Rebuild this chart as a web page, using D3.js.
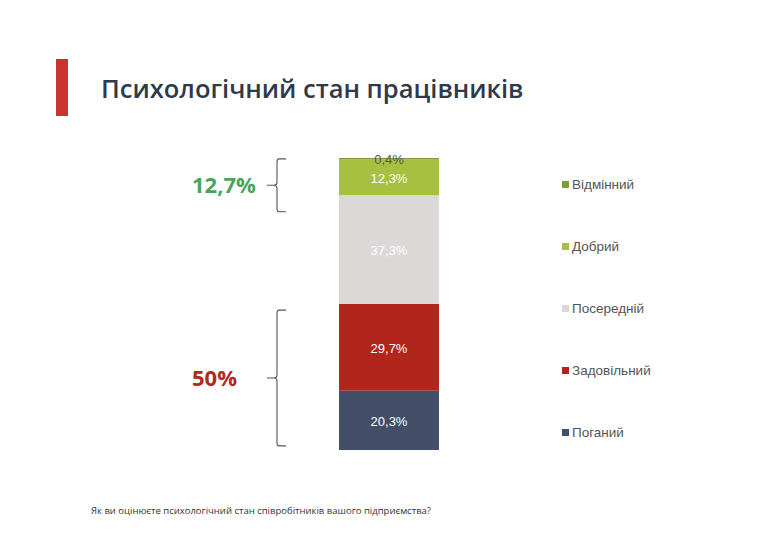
<!DOCTYPE html>
<html lang="uk">
<head>
<meta charset="utf-8">
<title>Психологічний стан працівників</title>
<script src="https://cdnjs.cloudflare.com/ajax/libs/d3/7.8.5/d3.min.js"></script>
<style>
  body { margin: 0; background: #fff; }
  svg { display: block; }
</style>
</head>
<body>
<div class="chart"></div>
<script>
// categories from bottom to top of the stacked bar
const categories = ['Поганий', 'Задовільний', 'Посередній', 'Добрий', 'Відмінний'];
const values = [20.3, 29.7, 37.3, 12.3, 0.4];
const valueLabels = ['20,3%', '29,7%', '37,3%', '12,3%', '0,4%'];
const colors = ['#434f69', '#b2251c', '#dcd8d8', '#a8c040', '#7b9c3c'];

// bracket annotations (ranges in % of the bar)
const bracketLabels = ['12,7%', '50%'];
const bracketRanges = [[81.6, 99.7], [1.4, 47.9]];
const bracketColors = ['#4aa55b', '#b2281f'];

const width = 764, height = 540;

const svg = d3.select('.chart')
    .append('svg')
    .attr('width', width)
    .attr('height', height);

// title block
svg.append('rect')
    .attr('x', 56).attr('y', 59)
    .attr('width', 12).attr('height', 57)
    .attr('fill', '#c8342e');

svg.append('text')
    .attr('x', 101).attr('y', 98)
    .attr('font-family', 'Open Sans, Noto Sans, sans-serif')
    .attr('font-weight', 600)
    .attr('font-size', 25.5)
    .attr('fill', '#2e3a4b')
    .text('Психологічний стан працівників');

// stacked bar
const yScale = d3.scaleLinear()
    .domain([0, 100])
    .range([450, 158]);

const xScale = d3.scaleBand()
    .domain(['bar'])
    .range([339, 439]);

const stacked = [];
let acc = 0;
values.forEach((v, i) => {
    stacked.push({ cat: categories[i], v: v, y0: acc, y1: acc + v, label: valueLabels[i], color: colors[i] });
    acc += v;
});

svg.selectAll('.seg')
    .data(stacked)
    .enter()
    .append('rect')
    .attr('class', 'seg')
    .attr('x', xScale('bar'))
    .attr('width', xScale.bandwidth())
    .attr('y', d => yScale(d.y1))
    .attr('height', d => yScale(d.y0) - yScale(d.y1))
    .attr('fill', d => d.color);

svg.selectAll('.seglabel')
    .data(stacked)
    .enter()
    .append('text')
    .attr('class', 'seglabel')
    .attr('x', xScale('bar') + xScale.bandwidth() / 2)
    .attr('y', d => d.v < 2 ? yScale(d.y1) + 6 : yScale((d.y0 + d.y1) / 2) + 1)
    .attr('dy', d => d.v < 2 ? 0 : '0.35em')
    .attr('text-anchor', 'middle')
    .attr('font-family', 'Liberation Sans, Arial, sans-serif')
    .attr('font-size', 13)
    .attr('fill', d => d.v < 2 ? '#555' : '#fff')
    .text(d => d.label);

// brackets
const brackets = bracketLabels.map((l, i) => ({ label: l, r: bracketRanges[i], color: bracketColors[i] }));

const bx = 277;
brackets.forEach(b => {
    const yTop = yScale(b.r[1]), yBot = yScale(b.r[0]);
    const yMid = (yTop + yBot) / 2;
    const path = d3.path();
    path.moveTo(bx + 9, yTop);
    path.lineTo(bx + 2, yTop);
    path.quadraticCurveTo(bx, yTop, bx, yTop + 3);
    path.lineTo(bx, yMid - 3);
    path.quadraticCurveTo(bx, yMid, bx - 3, yMid);
    path.lineTo(bx - 10, yMid);
    path.moveTo(bx - 3, yMid);
    path.quadraticCurveTo(bx, yMid, bx, yMid + 3);
    path.lineTo(bx, yBot - 3);
    path.quadraticCurveTo(bx, yBot, bx + 2, yBot);
    path.lineTo(bx + 9, yBot);
    svg.append('path')
        .attr('d', path.toString())
        .attr('fill', 'none')
        .attr('stroke', '#555')
        .attr('stroke-width', 1.1);

    svg.append('text')
        .attr('x', 192)
        .attr('y', yMid)
        .attr('dy', '0.35em')
        .attr('font-family', 'Open Sans, Noto Sans, sans-serif')
        .attr('font-weight', 700)
        .attr('font-size', 22)
        .attr('fill', b.color)
        .text(b.label);
});

// legend, top item = last category
const legendData = categories.map((c, i) => ({ cat: c, color: colors[i] })).reverse();
const legendY = d3.scalePoint()
    .domain(legendData.map(d => d.cat))
    .range([184, 432]);

svg.selectAll('.legsq')
    .data(legendData)
    .enter()
    .append('rect')
    .attr('x', 562)
    .attr('y', d => legendY(d.cat) - 3)
    .attr('width', 7)
    .attr('height', 7)
    .attr('fill', d => d.color);

svg.selectAll('.legtxt')
    .data(legendData)
    .enter()
    .append('text')
    .attr('x', 572)
    .attr('y', d => legendY(d.cat))
    .attr('dy', '0.35em')
    .attr('font-family', 'Liberation Sans, Arial, sans-serif')
    .attr('font-size', 13.5)
    .attr('fill', '#555')
    .text(d => d.cat);

// footnote
svg.append('text')
    .attr('x', 91)
    .attr('y', 514)
    .attr('font-family', 'Open Sans, Noto Sans, sans-serif')
    .attr('font-size', 9.5)
    .attr('fill', '#333')
    .text('Як ви оцінюєте психологічний стан співробітників вашого підприємства?');
</script>
</body>
</html>
